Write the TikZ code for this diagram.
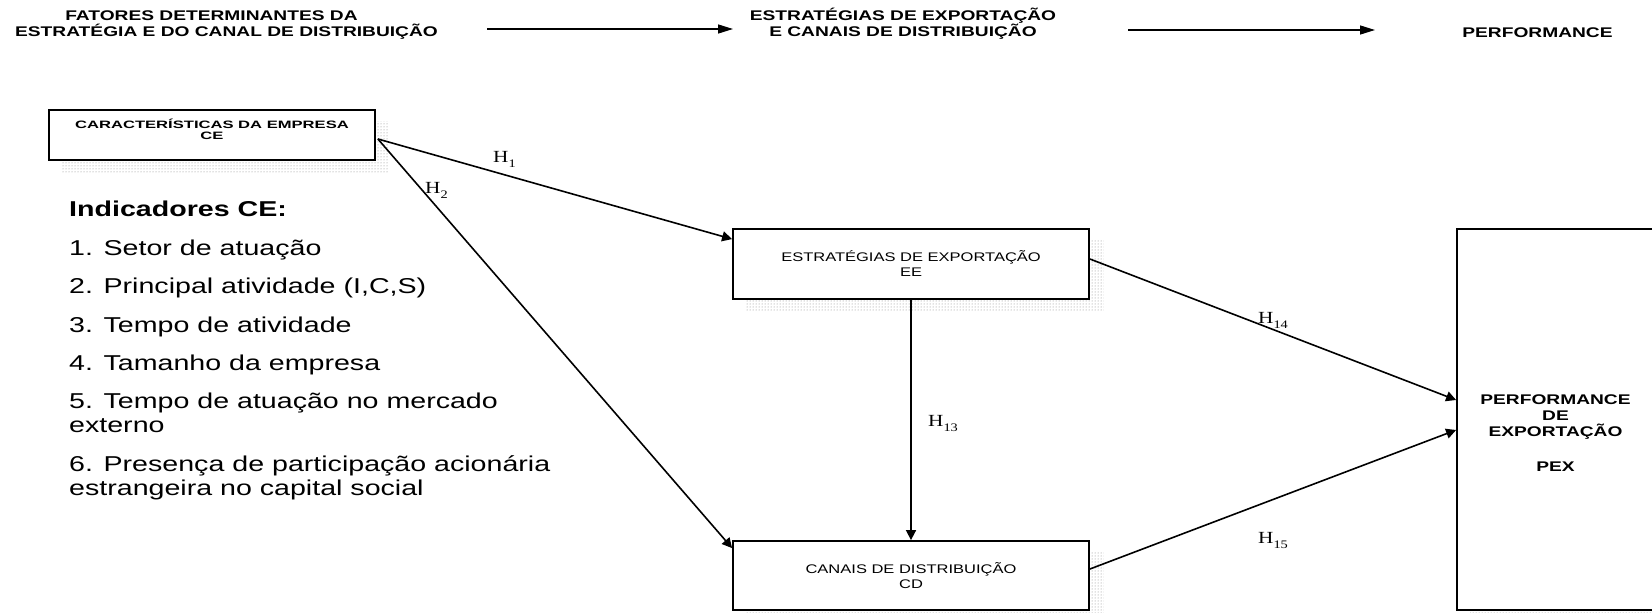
\documentclass[tikz,border=0pt]{standalone}
\usepackage{fontspec}
\setmainfont{Liberation Sans}
% widened sans faces, one per text role
\newfontfamily\hdrfont[FakeStretch=1.37]{Liberation Sans}
\newfontfamily\cefont[FakeStretch=1.55]{Liberation Sans}
\newfontfamily\boxfont[FakeStretch=1.32]{Liberation Sans}
\newfontfamily\listfont[FakeStretch=1.33]{Liberation Sans}
\newfontfamily\hypfont[FakeStretch=1.25]{Liberation Serif}
\usetikzlibrary{arrows.meta,calc,patterns.meta,backgrounds}

% hypothesis label: H with a lowered index
\newcommand\hyp[1]{{\hypfont\fontsize{17}{17}\selectfont H\raisebox{-5pt}{\fontsize{11.5}{11.5}\selectfont #1}}}

\begin{document}
\begin{tikzpicture}[x=1pt,y=-1pt,
  box/.style={draw, line width=1.8pt, fill=white, inner sep=0pt, align=center},
  dropdots/.style={pattern={Dots[radius=0.5pt,distance=3pt]}, pattern color=black!50},
  hyparrow/.style={line width=1.6pt, -{Triangle[length=10pt,width=10pt]}},
  stagearrow/.style={line width=1.4pt, -{Triangle[length=15pt,width=9pt]}},
  stagetext/.style={font=\hdrfont\bfseries\fontsize{14}{16.5}\selectfont, align=center, inner sep=0pt},
  hlabel/.style={anchor=base west, inner sep=0pt},
  item/.style={font=\listfont\fontsize{21.5}{24}\selectfont, anchor=base west, align=left, inner sep=0pt}]

\useasboundingbox (0,0) rectangle (1652,613);

% stage headings
\node[stagetext] (st1) at (226.5,25) {FATORES DETERMINANTES DA\hspace*{30pt}\\ESTRATÉGIA E DO CANAL DE DISTRIBUIÇÃO};
\node[stagetext] (st2) at (903,23.5) {ESTRATÉGIAS DE EXPORTAÇÃO\\E CANAIS DE DISTRIBUIÇÃO};
\node[stagetext, anchor=base] (st3) at (1537.5,37) {PERFORMANCE};
\coordinate (a1s) at (487,29);
\coordinate (a1e) at (733,29);
\coordinate (a2s) at (1128,30);
\coordinate (a2e) at (1375,30);
\draw[stagearrow] (a1s) -- (a1e);
\draw[stagearrow] (a2s) -- (a2e);

% constructs
\node[box, minimum width=326pt, minimum height=50pt,
      font=\cefont\bfseries\fontsize{10.7}{11}\selectfont] (ce) at (212,135)
  {CARACTERÍSTICAS DA EMPRESA\\CE\\[1pt]\mbox{}};
\node[box, minimum width=356pt, minimum height=70pt,
      font=\boxfont\fontsize{12.5}{15}\selectfont] (ee) at (911,264)
  {ESTRATÉGIAS DE EXPORTAÇÃO\\EE};
\node[box, minimum width=356pt, minimum height=69pt,
      font=\boxfont\fontsize{12.5}{15}\selectfont] (cd) at (911,575.5)
  {CANAIS DE DISTRIBUIÇÃO\\CD};
\node[box, minimum width=197pt, minimum height=381pt,
      font=\hdrfont\bfseries\fontsize{14}{16}\selectfont] (pex) at (1555.5,419.5)
  {\mbox{}\\[21pt]PERFORMANCE\\DE\\EXPORTAÇÃO\\[19pt]PEX};

% dotted drop shadows
\begin{scope}[on background layer]
  \path[dropdots] ($(ce.north west)+(13,12)$) rectangle ($(ce.south east)+(13,12)$);
  \path[dropdots] ($(ee.north west)+(14,11)$) rectangle ($(ee.south east)+(14,11)$);
  \path[dropdots] ($(cd.north west)+(14,11)$) rectangle ($(cd.south east)+(14,11)$);
  \path[dropdots] ($(pex.north west)+(14,11)$) rectangle ($(pex.south east)+(14,11)$);
\end{scope}

% indicator list (multi-line entries are anchored at their last baseline)
\node[item, font=\listfont\bfseries\fontsize{21.5}{24}\selectfont] (ind) at (69,216.7) {Indicadores CE:};
\node[item] (i1) at (69,255) {1. Setor de atuação};
\node[item] (i2) at (69,293) {2. Principal atividade (I,C,S)};
\node[item] (i3) at (69,332) {3. Tempo de atividade};
\node[item] (i4) at (69,370) {4. Tamanho da empresa};
\node[item] (i5) at (69,432) {5. Tempo de atuação no mercado\\externo};
\node[item] (i6) at (69,495) {6. Presença de participação acionária\\estrangeira no capital social};

% hypotheses
\draw[hyparrow] ($(ce.east)+(2,4)$) -- ($(ee.north west)+(0,11)$);
\draw[hyparrow] ($(ce.east)+(2,4)$) -- ($(cd.north west)+(0,8)$);
\draw[hyparrow] (ee.south) -- (cd.north);
\draw[hyparrow] ($(ee.east)+(0,-5)$) -- ($(pex.west)+(0,-19.5)$);
\draw[hyparrow] ($(cd.east)+(0,-6.5)$) -- ($(pex.west)+(0,10.5)$);

\node[hlabel] (h1) at (493,162.5) {\hyp{1}};
\node[hlabel] (h2) at (425,193) {\hyp{2}};
\node[hlabel] (h13) at (928,426) {\hyp{13}};
\node[hlabel] (h14) at (1258,323) {\hyp{14}};
\node[hlabel] (h15) at (1258,543) {\hyp{15}};
\end{tikzpicture}
\end{document}
